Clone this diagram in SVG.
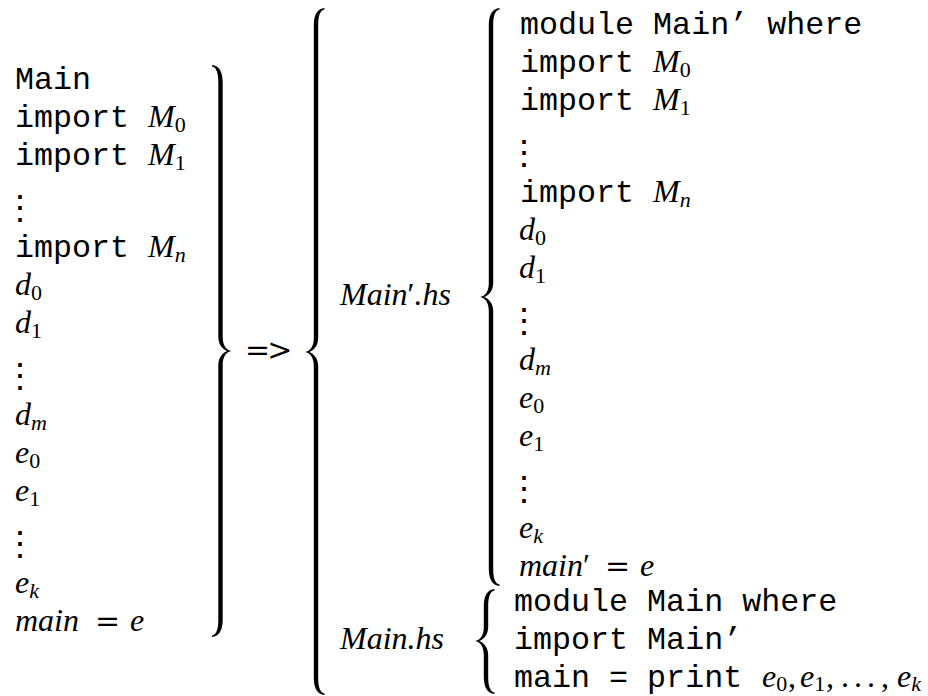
<svg xmlns="http://www.w3.org/2000/svg" width="928" height="696" viewBox="0 0 928 696">
  <style>
    .tt{font-family:"Liberation Mono",monospace;font-size:31.7px;fill:#000}
    .mi{font-family:"Liberation Serif",serif;font-style:italic;font-size:32px;fill:#000}
    .rm{font-family:"Liberation Serif",serif;font-style:normal;font-size:32px}
    .eq{font-family:"DejaVu Serif",serif;font-style:normal;font-size:30px}
    .sb{font-family:"Liberation Serif",serif;font-style:normal;font-size:22px}
    .si{font-family:"Liberation Serif",serif;font-style:italic;font-size:22px}
    .vd{font-family:"DejaVu Serif",serif;font-size:34px;fill:#000;text-anchor:middle}
    .brace{fill:#000}
  </style>

  <rect width="928" height="696" fill="#fff"/>

  <!-- source module: left column -->
  <g id="source">
    <text class="tt" x="15" y="89">Main</text>
    <text class="tt" x="15" y="127">import <tspan class="mi" x="148">M</tspan><tspan class="sb" dy="5">0</tspan></text>
    <text class="tt" x="15" y="165">import <tspan class="mi" x="148">M</tspan><tspan class="sb" dy="5">1</tspan></text>
    <text class="vd" x="19.5" y="219">⋮</text>
    <text class="tt" x="15" y="257">import <tspan class="mi" x="148">M</tspan><tspan class="si" dy="5">n</tspan></text>
    <text class="mi" x="15" y="295">d<tspan class="sb" dy="5">0</tspan></text>
    <text class="mi" x="15" y="333">d<tspan class="sb" dy="5">1</tspan></text>
    <text class="vd" x="19.5" y="387">⋮</text>
    <text class="mi" x="15" y="425">d<tspan class="si" dy="5">m</tspan></text>
    <text class="mi" x="15" y="463">e<tspan class="sb" dy="5">0</tspan></text>
    <text class="mi" x="15" y="501">e<tspan class="sb" dy="5">1</tspan></text>
    <text class="vd" x="19.5" y="555">⋮</text>
    <text class="mi" x="15" y="593">e<tspan class="si" dy="5">k</tspan></text>
    <text class="mi" x="15" y="631">main<tspan class="eq" x="95">=</tspan><tspan x="130">e</tspan></text>
  </g>

  <!-- rewrite arrow -->
  <g id="arrow">
    <text class="eq" x="245" y="360" letter-spacing="-3">=&gt;</text>
  </g>

  <!-- generated Main'.hs -->
  <g id="main-prime-hs">
    <text class="mi" x="340" y="305">Main<tspan class="rm">′</tspan>.hs</text>
    <text class="tt" x="520" y="34">module Main’ where</text>
    <text class="tt" x="520" y="72">import <tspan class="mi" x="653">M</tspan><tspan class="sb" dy="5">0</tspan></text>
    <text class="tt" x="520" y="110">import <tspan class="mi" x="653">M</tspan><tspan class="sb" dy="5">1</tspan></text>
    <text class="vd" x="523.5" y="164">⋮</text>
    <text class="tt" x="520" y="202">import <tspan class="mi" x="653">M</tspan><tspan class="si" dy="5">n</tspan></text>
    <text class="mi" x="519" y="240">d<tspan class="sb" dy="5">0</tspan></text>
    <text class="mi" x="519" y="278">d<tspan class="sb" dy="5">1</tspan></text>
    <text class="vd" x="523.5" y="332">⋮</text>
    <text class="mi" x="519" y="370">d<tspan class="si" dy="5">m</tspan></text>
    <text class="mi" x="519" y="408">e<tspan class="sb" dy="5">0</tspan></text>
    <text class="mi" x="519" y="446">e<tspan class="sb" dy="5">1</tspan></text>
    <text class="vd" x="523.5" y="500">⋮</text>
    <text class="mi" x="519" y="538">e<tspan class="si" dy="5">k</tspan></text>
    <text class="mi" x="519" y="576">main<tspan class="rm">′</tspan><tspan class="eq" x="605">=</tspan><tspan x="640">e</tspan></text>
  </g>

  <!-- generated Main.hs -->
  <g id="main-hs">
    <text class="mi" x="340" y="649">Main.hs</text>
    <text class="tt" x="514" y="611">module Main where</text>
    <text class="tt" x="514" y="649">import Main’</text>
    <text class="tt" x="514" y="687">main = print<tspan class="mi" x="762">e</tspan><tspan class="sb" dy="4">0</tspan><tspan class="rm" x="788" dy="-4">,</tspan><tspan class="mi" x="800">e</tspan><tspan class="sb" dy="4">1</tspan><tspan class="rm" x="826" dy="-4">,</tspan><tspan class="rm" x="841">.</tspan><tspan class="rm" x="854">.</tspan><tspan class="rm" x="867">.</tspan><tspan class="rm" x="881">,</tspan><tspan class="mi" x="897">e</tspan><tspan class="si" dy="4">k</tspan></text>
  </g>

  <!-- braces -->
  <g id="braces" class="brace">
    <!-- closing brace around the source module -->
    <path transform="translate(220.5,0) scale(-1,1)" d="M 8.5,65 C 2,65.5 -2.2,71 -2.2,82 L -2.2,337 C -2.2,346 -6,350 -11,351 C -6,352 -2.2,356 -2.2,365 L -2.2,620 C -2.2,631 2,636.5 8.5,637 L 8.5,635.5 C 4,634.5 2.2,629 2.2,620 L 2.2,365 C 2.2,357 -3,352 -7,351 C -3,350 2.2,345 2.2,337 L 2.2,82 C 2.2,73 4,67.5 8.5,66.5 Z"/>
    <!-- outer opening brace -->
    <path transform="translate(316,0)" d="M 8.5,8 C 2,8.5 -2.2,14 -2.2,25 L -2.2,338 C -2.2,347 -6,351 -11,352 C -6,353 -2.2,357 -2.2,366 L -2.2,678 C -2.2,689 2,694.5 8.5,695 L 8.5,693.5 C 4,692.5 2.2,687 2.2,678 L 2.2,366 C 2.2,358 -3,353 -7,352 C -3,351 2.2,346 2.2,338 L 2.2,25 C 2.2,16 4,10.5 8.5,9.5 Z"/>
    <!-- Main'.hs brace -->
    <path transform="translate(491,0)" d="M 8.5,8 C 2,8.5 -2.2,14 -2.2,25 L -2.2,283 C -2.2,292 -6,296 -11,297 C -6,298 -2.2,302 -2.2,311 L -2.2,569 C -2.2,580 2,585.5 8.5,586 L 8.5,584.5 C 4,583.5 2.2,578 2.2,569 L 2.2,311 C 2.2,303 -3,298 -7,297 C -3,296 2.2,291 2.2,283 L 2.2,25 C 2.2,16 4,10.5 8.5,9.5 Z"/>
    <!-- Main.hs brace -->
    <path transform="translate(486,0)" d="M 8.5,589 C 2,589.5 -2.2,595 -2.2,606 L -2.2,627 C -2.2,636 -6,640 -11,641 C -6,642 -2.2,646 -2.2,655 L -2.2,677 C -2.2,688 2,693.5 8.5,694 L 8.5,692.5 C 4,691.5 2.2,686 2.2,677 L 2.2,655 C 2.2,647 -3,642 -7,641 C -3,640 2.2,635 2.2,627 L 2.2,606 C 2.2,597 4,591.5 8.5,590.5 Z"/>
  </g>
</svg>
